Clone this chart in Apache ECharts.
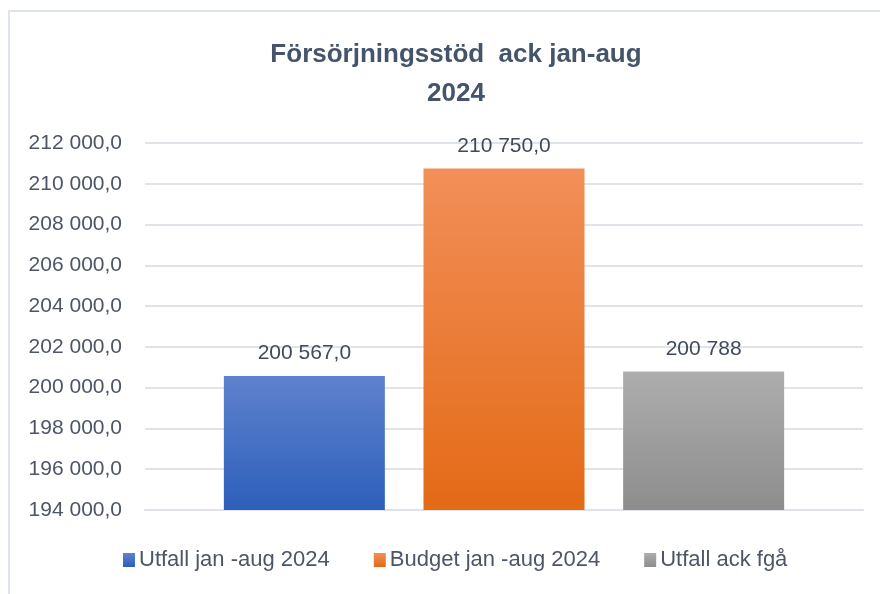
<!DOCTYPE html>
<html>
<head>
<meta charset="utf-8">
<script src="https://cdn.jsdelivr.net/npm/echarts@6/dist/echarts.min.js"></script>
<style>
html, body { margin: 0; padding: 0; background: #fff; }
#main { width: 880px; height: 594px; }
</style>
</head>
<body>
<div id="main"></div>
<script>
// data
var categories = [''];
var seriesNames = ['Utfall jan -aug 2024', 'Budget jan -aug 2024', 'Utfall ack fgå'];
var utfall = [200567];
var budget = [210750];
var utfallFga = [200788];
var yTicks = { min: 194000, max: 212000, step: 2000 };

var myChart = echarts.init(document.getElementById('main'));

// 212000 -> "212 000,0"
function fmt(v, dec) {
    var s = Math.round(v).toString().replace(/\B(?=(\d{3})+(?!\d))/g, ' ');
    return dec ? s + ',0' : s;
}

function grad(top, bottom) {
    return new echarts.graphic.LinearGradient(0, 0, 0, 1, [
        {offset: 0, color: top}, {offset: 1, color: bottom}
    ]);
}

var labelStyle = {show: true, position: 'top', distance: 12, fontSize: 21, color: '#404a5a', fontFamily: 'Liberation Sans'};

option = {
    animation: false,
    backgroundColor: '#fff',
    title: {
        text: 'Försörjningsstöd  ack jan-aug\n2024',
        left: 451, top: 30, textAlign: 'center',
        textStyle: {fontSize: 26, fontWeight: 'bold', color: '#44546a', fontFamily: 'Liberation Sans', lineHeight: 39}
    },
    legend: {
        bottom: 18, left: 118,
        itemWidth: 12, itemHeight: 14, itemGap: 44,
        icon: 'rect',
        textStyle: {fontSize: 22, color: '#4d5566', fontFamily: 'Liberation Sans', padding: [0, 0, 0, -1]},
        data: seriesNames
    },
    grid: {left: 145, right: 17, top: 143, bottom: 84},
    xAxis: [{
        type: 'category', data: categories,
        axisLine: {show: true, lineStyle: {color: '#e0e3e8', width: 2}},
        axisTick: {show: false}, axisLabel: {show: false}
    }],
    yAxis: [{
        type: 'value', min: yTicks.min, max: yTicks.max, interval: yTicks.step,
        axisLine: {show: false}, axisTick: {show: false},
        splitLine: {lineStyle: {color: '#e0e3e8', width: 2}},
        axisLabel: {
            margin: 23, fontSize: 21, color: '#4d5566', fontFamily: 'Liberation Sans',
            formatter: function (v) { return fmt(v, true); }
        }
    }],
    graphic: [{
        type: 'polyline', silent: true,
        shape: {points: [[9, 594], [9, 11], [880, 11]]},
        style: {stroke: '#dde3ea', lineWidth: 2, fill: null}
    }],
    series: [
        {
            name: seriesNames[0], type: 'bar', data: utfall, barWidth: 161, barGap: '24%',
            itemStyle: {color: grad('#5f82ce', '#2d5fba')},
            label: Object.assign({}, labelStyle, {formatter: function (p) { return fmt(p.value, true); }})
        },
        {
            name: seriesNames[1], type: 'bar', data: budget, barWidth: 161, barGap: '24%',
            itemStyle: {color: grad('#f28f58', '#e36a16')},
            label: Object.assign({}, labelStyle, {formatter: function (p) { return fmt(p.value, true); }})
        },
        {
            name: seriesNames[2], type: 'bar', data: utfallFga, barWidth: 161, barGap: '24%',
            itemStyle: {color: grad('#adadad', '#8d8d8d')},
            label: Object.assign({}, labelStyle, {formatter: function (p) { return fmt(p.value, false); }})
        }
    ]
};
myChart.setOption(option);
</script>
</body>
</html>
